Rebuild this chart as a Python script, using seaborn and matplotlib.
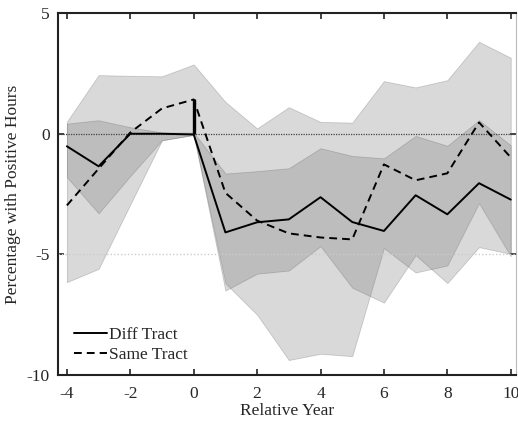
import numpy as np
import pandas as pd
import matplotlib
matplotlib.use("Agg")
import matplotlib.pyplot as plt
import seaborn as sns

# Event-study estimates by relative year
years = [-4, -3, -2, -1, 0, 1, 2, 3, 4, 5, 6, 7, 8, 9, 10]

diff_tract = [-0.52, -1.35, 0.0, 0.0, -0.03, -4.09, -3.67, -3.55, -2.63, -3.66, -4.03, -2.55, -3.34, -2.05, -2.73]
diff_lo = [-1.8, -3.3, -1.75, -0.27, -0.05, -6.5, -5.8, -5.67, -4.66, -6.38, -7.0, -5.03, -6.19, -4.7, -4.98]
diff_hi = [0.42, 0.56, 0.27, 0.05, 0.05, -1.65, -1.55, -1.43, -0.6, -0.92, -1.02, -0.09, -0.5, 0.56, -0.48]

same_tract = [-2.97, -1.45, 0.05, 1.05, 1.42, -2.45, -3.6, -4.13, -4.3, -4.38, -1.27, -1.93, -1.64, 0.47, -0.98]
same_lo = [-6.15, -5.6, -2.93, -0.27, -0.05, -6.2, -7.5, -9.38, -9.12, -9.22, -4.74, -5.75, -5.46, -2.88, -5.08]
same_hi = [0.5, 2.43, 2.4, 2.38, 2.87, 1.32, 0.22, 1.1, 0.49, 0.46, 2.18, 1.92, 2.22, 3.81, 3.15]

x_ticks = [-4, -2, 0, 2, 4, 6, 8, 10]
y_ticks = [-10, -5, 0, 5]

FS = 12.5

sns.set_style("ticks")
plt.rcParams["font.family"] = ["Liberation Serif", "DejaVu Serif"]
plt.rcParams["font.size"] = FS

df = pd.DataFrame({
    "Relative Year": years * 2,
    "Percentage with Positive Hours": diff_tract + same_tract,
    "Group": ["Diff Tract"] * len(years) + ["Same Tract"] * len(years),
})

fig = plt.figure(figsize=(5.18, 4.23), dpi=100)
ax = fig.add_axes([0.112, 0.1135, 0.885, 0.8555])

# Confidence bands (translucent gray, overlap appears darker)
for lo, hi in [(same_lo, same_hi), (diff_lo, diff_hi)]:
    ax.fill_between(years, lo, hi, facecolor="#6e6e6e", alpha=0.26,
                    edgecolor="#505050", linewidth=0.6, zorder=1)

# Reference lines
ax.axhline(0, color="#444444", linestyle=(0, (1, 1)), linewidth=0.9, zorder=2)
ax.axhline(-5, color="#cccccc", linestyle=(0, (1, 1.5)), linewidth=1.0, zorder=2)

sns.lineplot(data=df, x="Relative Year", y="Percentage with Positive Hours",
             style="Group", dashes={"Diff Tract": "", "Same Tract": (4, 2.6)},
             color="black", linewidth=1.4, ax=ax, zorder=3, legend=True)

# Jump between the two series at the event year
i0 = years.index(0)
ax.vlines(0, diff_tract[i0], same_tract[i0], color="black", linewidth=2.4, zorder=3)

ax.set_xlim(-4.28, 10.18)
ax.set_ylim(-10, 5)
ax.set_xticks(x_ticks)
ax.set_yticks(y_ticks)
ax.set_xticklabels([str(t) for t in x_ticks])
ax.set_yticklabels([str(t) for t in y_ticks])
ax.tick_params(direction="in", length=4, width=1.2, color="#222222",
               top=True, right=True, labelsize=FS, pad=6)
ax.tick_params(axis="x", pad=8)
ax.set_xlabel("Relative Year", fontsize=FS, labelpad=1)
ax.set_ylabel("Percentage with Positive Hours", fontsize=FS, labelpad=4)

for side in ["left", "bottom", "top"]:
    ax.spines[side].set_color("#222222")
    ax.spines[side].set_linewidth(1.5)
ax.spines["right"].set_color("#bbbbbb")
ax.spines["right"].set_linewidth(0.8)

leg = ax.legend(loc="lower left", frameon=False, fontsize=FS, handlelength=1.9,
                handletextpad=0.15, labelspacing=0.22, borderaxespad=0.5,
                bbox_to_anchor=(0.0, -0.011))
for h in leg.get_lines():
    h.set_linewidth(1.4)

fig.savefig("out.png", dpi=100)
